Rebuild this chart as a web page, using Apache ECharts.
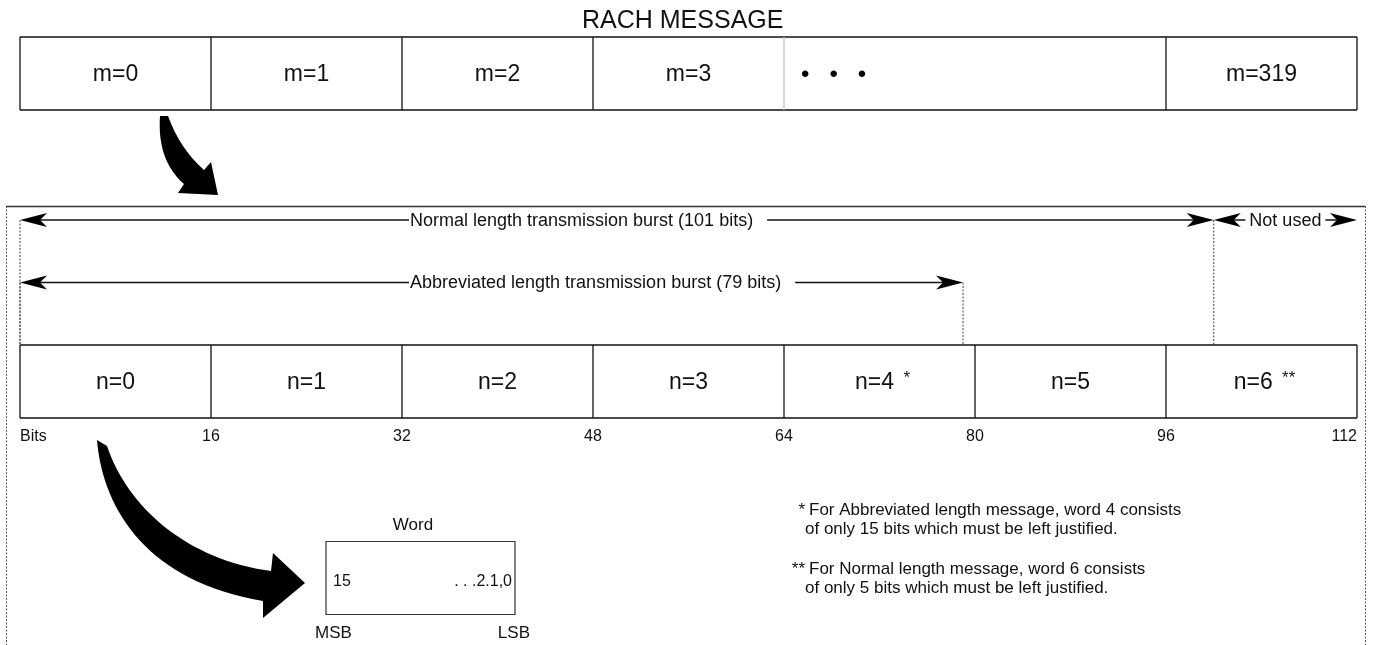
<!DOCTYPE html>
<html><head><meta charset="utf-8">
<script src="https://cdn.jsdelivr.net/npm/echarts@6/dist/echarts.min.js"></script>
<style>html,body{margin:0;padding:0;background:#fff}#c{width:1379px;height:645px}</style>
</head><body><div id="c"></div>
<script>
// ---------- data ----------
const chartTitle = 'RACH MESSAGE';
const messageCells = ['m=0', 'm=1', 'm=2', 'm=3', '• • •', 'm=319'];
const messageCellStart = [0, 16, 32, 48, 64, 96];
const messageCellEnd = [16, 32, 48, 64, 96, 112];
const wordCells = ['n=0', 'n=1', 'n=2', 'n=3', 'n=4 *', 'n=5', 'n=6 **'];
const wordCellStart = [0, 16, 32, 48, 64, 80, 96];
const wordCellEnd = [16, 32, 48, 64, 80, 96, 112];
const bitTicks = [0, 16, 32, 48, 64, 80, 96, 112];
const bitTickLabels = ['Bits', '16', '32', '48', '64', '80', '96', '112'];
const burstNames = ['Normal length transmission burst (101 bits)', 'Abbreviated length transmission burst (79 bits)', 'Not used'];
const burstStart = [0, 0, 100];
const burstEnd = [100, 79, 112];
const burstLevel = [0, 1, 0];
const wordBoxTitle = 'Word';
const wordBoxBits = ['15', '. . .2.1,0'];
const wordBoxEnds = ['MSB', 'LSB'];
const noteMarks = ['*', '**'];
const noteLines = [
  ['For Abbreviated length message, word 4 consists', 'of only 15 bits which must be left justified.'],
  ['For Normal length message, word 6 consists', 'of only 5 bits which must be left justified.']
];

// ---------- rendering ----------
const FONT = '"Liberation Sans", Arial, Helvetica, sans-serif';
const INK = '#111';
const chart = echarts.init(document.getElementById('c'), null, {renderer: 'canvas'});

function cellRender(labels, fontSize) {
  return function (params, api) {
    const i = api.value(2);
    const pTopL = api.coord([api.value(0), 1]);
    const pBotR = api.coord([api.value(1), 0]);
    const x0 = pTopL[0], y0 = pTopL[1], x1 = pBotR[0], y1 = pBotR[1];
    const label = labels[i];
    const isGap = label.indexOf('•') >= 0;
    const ls = {stroke: INK, lineWidth: 1.3};
    const children = [
      {type: 'line', shape: {x1: x0, y1: y0, x2: x1, y2: y0}, style: ls},
      {type: 'line', shape: {x1: x0, y1: y1, x2: x1, y2: y1}, style: ls},
      {type: 'line', shape: {x1: x0, y1: y0, x2: x0, y2: y1}, style: {stroke: isGap ? '#c4c4c4' : INK, lineWidth: 1.3}}
    ];
    if (i === labels.length - 1) {
      children.push({type: 'line', shape: {x1: x1, y1: y0, x2: x1, y2: y1}, style: ls});
    }
    if (isGap) {
      children.push({type: 'text', style: {text: label.split(' ').join('   '), x: x0 + 17, y: (y0 + y1) / 2 + 2,
        align: 'left', verticalAlign: 'middle', font: '24px ' + FONT, fill: '#000'}});
    } else {
      const parts = label.split(' ');
      let text = '{a|' + parts[0] + '}';
      if (parts.length > 1) text += '{s|  ' + parts[1] + '}';
      children.push({type: 'text', style: {text: text, x: (x0 + x1) / 2 + (parts.length > 1 ? 3 : 0), y: (y0 + y1) / 2 + 1,
        align: 'center', verticalAlign: 'middle',
        rich: {
          a: {fontSize: fontSize, fontFamily: FONT, fill: INK, color: INK, lineHeight: fontSize + 2},
          s: {fontSize: 17, fontFamily: FONT, fill: INK, color: INK, verticalAlign: 'top', lineHeight: 17}
        }}});
    }
    return {type: 'group', children: children};
  };
}

function head(x, y, dir) {
  return {type: 'polygon', shape: {points: [[x, y], [x - dir * 27, y - 7], [x - dir * 20, y], [x - dir * 27, y + 7]]},
    style: {fill: '#000'}};
}

function burstRender(params, api) {
  const i = api.value(3);
  const s = api.value(0), e = api.value(1), lvl = api.value(2);
  const p0 = api.coord([s, lvl]), p1 = api.coord([e, lvl]);
  const yb = api.coord([s, 2])[1];
  const children = [];
  const dash = {stroke: '#444', lineWidth: 1, lineDash: [2, 1.5]};
  if (s === 0) {
    children.push({type: 'line', shape: {x1: p0[0], y1: p0[1], x2: p0[0], y2: yb}, style: dash});
    children.push({type: 'line', shape: {x1: p1[0], y1: p1[1], x2: p1[0], y2: yb}, style: dash});
  }
  children.push({type: 'line', shape: {x1: p0[0] + 20, y1: p0[1], x2: p1[0] - 20, y2: p1[1]}, style: {stroke: INK, lineWidth: 1.4}});
  children.push(head(p0[0], p0[1], -1));
  children.push(head(p1[0], p1[1], 1));
  if (s === 0) {
    const lx = api.coord([32, lvl])[0] + 7;
    children.push({type: 'text', style: {text: burstNames[i], x: lx, y: p0[1] + 1, align: 'left', verticalAlign: 'middle',
      font: '18px ' + FONT, fill: INK, backgroundColor: '#fff', padding: [3, 14, 3, 1]}});
  } else {
    children.push({type: 'text', style: {text: burstNames[i], x: (p0[0] + p1[0]) / 2, y: p0[1] + 1, align: 'center', verticalAlign: 'middle',
      font: '18px ' + FONT, fill: INK, backgroundColor: '#fff', padding: [3, 4, 3, 4]}});
  }
  return {type: 'group', children: children};
}

function decorRender(params, api) {
  return {type: 'group', children: [
    {type: 'path', shape: {pathData: 'M 160 116 C 158 146 166 168 184 184 L 178 193 L 218 195 L 211 162 L 204 170 C 188 156 176 138 168 116 Z'},
      style: {fill: '#000'}},
    {type: 'path', shape: {pathData: 'M 97 440 C 103 512 150 582 263 601 L 263 618 L 305 583 L 273 553 L 271 571 C 188 560 128 508 107 446 Z'},
      style: {fill: '#000'}}
  ]};
}

const gridL = 20, gridR = 22;
const option = {
  backgroundColor: '#fff',
  animation: false,
  title: {text: chartTitle, left: 577, top: 4,
    textStyle: {fontFamily: FONT, fontSize: 25, fontWeight: 'normal', color: INK}},
  grid: [
    {left: gridL, right: gridR, top: 37, height: 73},
    {left: gridL, right: gridR, top: 220, height: 125},
    {left: gridL, right: gridR, top: 345, height: 73}
  ],
  xAxis: [
    {gridIndex: 0, type: 'value', min: 0, max: 112, show: false},
    {gridIndex: 1, type: 'value', min: 0, max: 112, show: false},
    {gridIndex: 2, type: 'value', min: 0, max: 112, interval: 16,
      axisLine: {show: false}, axisTick: {show: false}, splitLine: {show: false},
      axisLabel: {show: true, margin: 11, fontSize: 16, fontFamily: FONT, color: INK,
        showMinLabel: true, showMaxLabel: true, alignMinLabel: 'left', alignMaxLabel: 'right',
        formatter: function (v) { const k = bitTicks.indexOf(v); return k >= 0 ? bitTickLabels[k] : ''; }}}
  ],
  yAxis: [
    {gridIndex: 0, type: 'value', min: 0, max: 1, show: false},
    {gridIndex: 1, type: 'value', min: 0, max: 2, inverse: true, show: false},
    {gridIndex: 2, type: 'value', min: 0, max: 1, show: false}
  ],
  series: [
    {type: 'custom', name: 'message', xAxisIndex: 0, yAxisIndex: 0, clip: false,
      renderItem: cellRender(messageCells, 23),
      data: messageCells.map((c, i) => [messageCellStart[i], messageCellEnd[i], i])},
    {type: 'custom', name: 'bursts', xAxisIndex: 1, yAxisIndex: 1, clip: false,
      renderItem: burstRender,
      data: burstNames.map((c, i) => [burstStart[i], burstEnd[i], burstLevel[i], i])},
    {type: 'custom', name: 'words', xAxisIndex: 2, yAxisIndex: 2, clip: false,
      renderItem: cellRender(wordCells, 23),
      data: wordCells.map((c, i) => [wordCellStart[i], wordCellEnd[i], i])},
    {type: 'custom', name: 'pointers', xAxisIndex: 0, yAxisIndex: 0, clip: false, silent: true,
      renderItem: decorRender, data: [[0, 0]]}
  ],
  graphic: [
    {type: 'line', shape: {x1: 6, y1: 206.5, x2: 1365, y2: 206.5}, style: {stroke: '#333', lineWidth: 1.3}},
    {type: 'line', shape: {x1: 6.5, y1: 206, x2: 6.5, y2: 645}, style: {stroke: '#555', lineWidth: 1, lineDash: [2, 1.5]}},
    {type: 'line', shape: {x1: 1365.5, y1: 206, x2: 1365.5, y2: 645}, style: {stroke: '#555', lineWidth: 1, lineDash: [2, 1.5]}},
    {type: 'rect', shape: {x: 326, y: 541.5, width: 189, height: 73}, style: {fill: 'none', stroke: '#333', lineWidth: 1.2}},
    {type: 'text', style: {text: wordBoxTitle, x: 413, y: 525, align: 'center', verticalAlign: 'middle', font: '17px ' + FONT, fill: INK}},
    {type: 'text', style: {text: wordBoxBits[0], x: 333, y: 582, align: 'left', verticalAlign: 'middle', font: '16px ' + FONT, fill: INK}},
    {type: 'text', style: {text: wordBoxBits[1], x: 512, y: 582, align: 'right', verticalAlign: 'middle', font: '16px ' + FONT, fill: INK}},
    {type: 'text', style: {text: wordBoxEnds[0], x: 315, y: 633, align: 'left', verticalAlign: 'middle', font: '17px ' + FONT, fill: INK}},
    {type: 'text', style: {text: wordBoxEnds[1], x: 530, y: 633, align: 'right', verticalAlign: 'middle', font: '17px ' + FONT, fill: INK}},
    {type: 'text', style: {text: noteMarks[0], x: 805, y: 510, align: 'right', verticalAlign: 'middle', font: '17px ' + FONT, fill: INK}},
    {type: 'text', style: {text: noteLines[0][0], x: 809, y: 510, align: 'left', verticalAlign: 'middle', font: '17px ' + FONT, fill: INK}},
    {type: 'text', style: {text: noteLines[0][1], x: 805, y: 529, align: 'left', verticalAlign: 'middle', font: '17px ' + FONT, fill: INK}},
    {type: 'text', style: {text: noteMarks[1], x: 805, y: 569, align: 'right', verticalAlign: 'middle', font: '17px ' + FONT, fill: INK}},
    {type: 'text', style: {text: noteLines[1][0], x: 809, y: 569, align: 'left', verticalAlign: 'middle', font: '17px ' + FONT, fill: INK}},
    {type: 'text', style: {text: noteLines[1][1], x: 805, y: 588, align: 'left', verticalAlign: 'middle', font: '17px ' + FONT, fill: INK}}
  ]
};
chart.setOption(option);
</script>
</body></html>
